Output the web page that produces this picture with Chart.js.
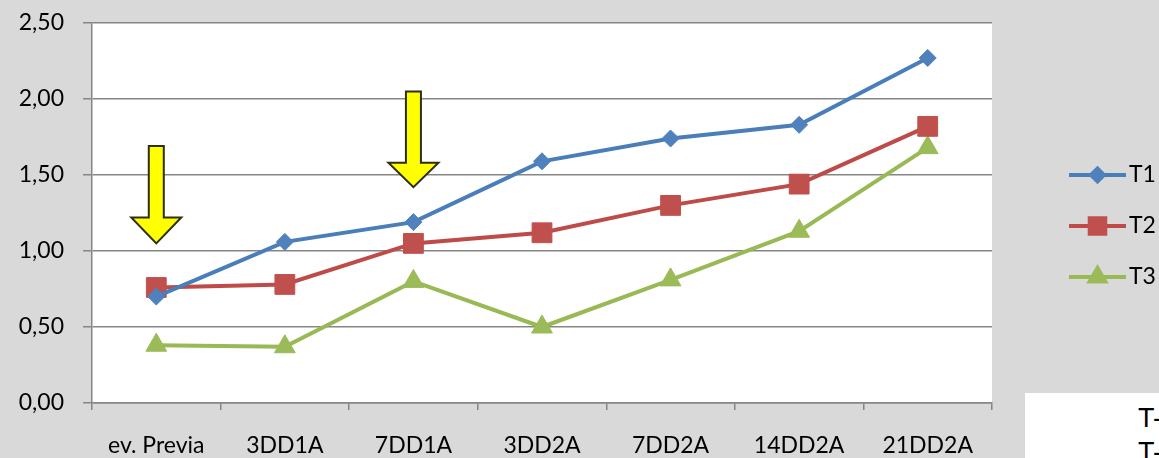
<!DOCTYPE html>
<html>
<head>
<meta charset="utf-8">
<script src="https://cdn.jsdelivr.net/npm/chart.js@4/dist/chart.umd.min.js"></script>
<style>
  html, body { margin: 0; padding: 0; background: #d9d9d9; }
  #wrap { position: relative; width: 1159px; height: 458px; overflow: hidden; }
  #c { position: absolute; left: 0; top: 0; }
  #note {
    position: absolute; left: 1025px; top: 393px; width: 134px; height: 65px;
    background: #ffffff; box-sizing: border-box; padding-top: 8px;
    font-family: "Liberation Sans", Arial, sans-serif; font-size: 27px; line-height: 34px; color: #000;
  }
  #note div { padding-left: 113px; white-space: nowrap; }
</style>
</head>
<body>
<div id="wrap">
  <canvas id="c" width="1159" height="458"></canvas>
  <div id="note"><div>T-1</div><div>T-2</div></div>
</div>
<script>
// Sampling points along the trial
const categories = ['ev. Previa', '3DD1A', '7DD1A', '3DD2A', '7DD2A', '14DD2A', '21DD2A'];

// Series values per treatment
const t1Values = [0.70, 1.06, 1.19, 1.59, 1.74, 1.83, 2.27];
const t2Values = [0.76, 0.78, 1.05, 1.12, 1.30, 1.44, 1.82];
const t3Values = [0.38, 0.37, 0.80, 0.50, 0.81, 1.13, 1.68];

// Value axis ticks
const yTicks = [0, 0.5, 1.0, 1.5, 2.0, 2.5];

// Application arrows: category index and value span (top of shaft, start of head, tip)
const arrowCategory = [0, 2];
const arrowTop = [1.69, 2.05];
const arrowNeck = [1.22, 1.58];
const arrowTip = [1.05, 1.42];

const FONT = 'Lato, "Open Sans", sans-serif';
const LABEL_SIZE = 23;

// White plot area over the grey chart background
const plotAreaPlugin = {
  id: 'plotArea',
  beforeDraw(chart) {
    const { ctx, chartArea: a } = chart;
    ctx.save();
    ctx.fillStyle = '#ffffff';
    ctx.fillRect(a.left, a.top, a.right - a.left, a.bottom - a.top);
    ctx.restore();
  }
};

// Yellow down arrows marking the applications
const arrowPlugin = {
  id: 'arrows',
  afterDatasetsDraw(chart, args, opts) {
    const { ctx, scales: { x, y } } = chart;
    ctx.save();
    ctx.fillStyle = opts.fill;
    ctx.strokeStyle = opts.stroke;
    ctx.lineWidth = opts.lineWidth;
    ctx.lineJoin = 'miter';
    arrowCategory.forEach((c, i) => {
      const cx = x.getPixelForValue(c);
      const top = y.getPixelForValue(arrowTop[i]);
      const neck = y.getPixelForValue(arrowNeck[i]);
      const tip = y.getPixelForValue(arrowTip[i]);
      const s = opts.shaft / 2, h = opts.head / 2;
      ctx.beginPath();
      ctx.moveTo(cx - s, top);
      ctx.lineTo(cx + s, top);
      ctx.lineTo(cx + s, neck);
      ctx.lineTo(cx + h, neck);
      ctx.lineTo(cx, tip);
      ctx.lineTo(cx - h, neck);
      ctx.lineTo(cx - s, neck);
      ctx.closePath();
      ctx.fill();
      ctx.stroke();
    });
    ctx.restore();
  }
};

// Legend drawn to the right of the plot
const sideLegendPlugin = {
  id: 'sideLegend',
  afterDraw(chart, args, opts) {
    const { ctx } = chart;
    ctx.save();
    chart.data.datasets.forEach((ds, i) => {
      const yy = opts.top + i * opts.gap;
      ctx.strokeStyle = ds.borderColor;
      ctx.lineWidth = ds.borderWidth;
      ctx.beginPath();
      ctx.moveTo(opts.lineStart, yy);
      ctx.lineTo(opts.lineEnd, yy);
      ctx.stroke();
      ctx.fillStyle = ds.pointBackgroundColor;
      ctx.strokeStyle = ds.pointBorderColor;
      Chart.helpers.drawPoint(ctx, {
        pointStyle: ds.pointStyle,
        radius: opts.markerRadius[i],
        rotation: 0,
        borderWidth: 1
      }, (opts.lineStart + opts.lineEnd) / 2, yy);
      ctx.fillStyle = '#000';
      ctx.font = opts.fontSize + 'px ' + FONT;
      ctx.textBaseline = 'middle';
      ctx.textAlign = 'left';
      ctx.fillText(ds.label, opts.textX, yy);
    });
    ctx.restore();
  }
};

const series = [
  { label: 'T1', data: t1Values, line: '#4a7ebb', mark: '#4f81bd', style: 'rectRot', r: 8.5 },
  { label: 'T2', data: t2Values, line: '#be4b48', mark: '#c0504d', style: 'rect', r: 14 },
  { label: 'T3', data: t3Values, line: '#98b954', mark: '#9bbb59', style: 'triangle', r: 12 }
];

new Chart(document.getElementById('c'), {
  type: 'line',
  data: {
    labels: categories,
    datasets: series.map(s => ({
      label: s.label,
      data: s.data,
      borderColor: s.line,
      borderWidth: 4,
      pointStyle: s.style,
      pointRadius: s.r,
      pointBackgroundColor: s.mark,
      pointBorderColor: s.mark,
      pointBorderWidth: 1,
      tension: 0,
      fill: false
    }))
  },
  options: {
    responsive: false,
    animation: false,
    devicePixelRatio: 1,
    layout: { padding: { top: 23, right: 167, left: 0, bottom: 0 } },
    plugins: {
      legend: { display: false },
      tooltip: { enabled: false },
      title: { display: false },
      arrows: { fill: '#ffff00', stroke: '#2e2e14', lineWidth: 2, shaft: 15, head: 50 },
      sideLegend: {
        top: 175, gap: 51, lineStart: 1069, lineEnd: 1126, textX: 1129,
        fontSize: LABEL_SIZE, markerRadius: [6.5, 11, 9]
      }
    },
    scales: {
      x: {
        offset: true,
        grid: {
          offset: true, drawOnChartArea: false, drawTicks: true,
          tickLength: 7, color: '#868686', lineWidth: 1.5
        },
        border: { color: '#868686', width: 1.5 },
        ticks: {
          color: '#000', font: { family: FONT, size: LABEL_SIZE },
          padding: 22, maxRotation: 0, autoSkip: false
        },
        afterFit(s) { s.height = 55; s.paddingLeft = 0; s.paddingRight = 0; }
      },
      y: {
        min: 0, max: 2.5,
        afterBuildTicks(s) { s.ticks = yTicks.map(v => ({ value: v })); },
        ticks: {
          color: '#000', font: { family: FONT, size: LABEL_SIZE }, padding: 19,
          callback: v => v.toFixed(2).replace('.', ',')
        },
        grid: { color: '#868686', lineWidth: 1.5, tickLength: 9 },
        border: { color: '#868686', width: 1.5 },
        afterFit(s) { s.width = 92; s.paddingTop = 0; s.paddingBottom = 0; }
      }
    }
  },
  plugins: [plotAreaPlugin, arrowPlugin, sideLegendPlugin]
});
</script>
</body>
</html>
